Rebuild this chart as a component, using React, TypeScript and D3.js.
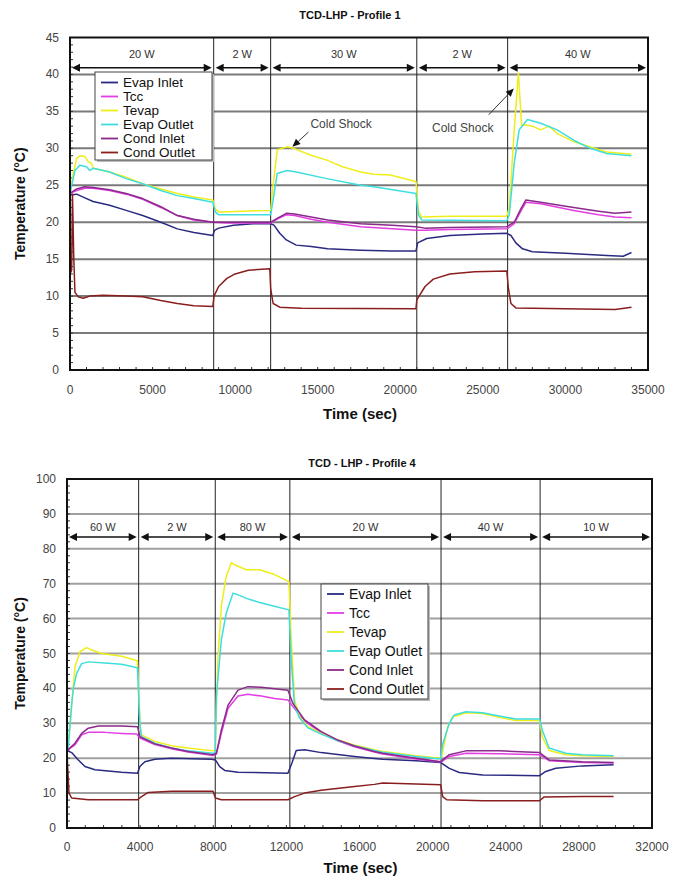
import React from 'react';
import * as d3 from 'd3';

type Pt = [number, number];

const seriesNames = ['Evap Inlet', 'Tcc', 'Tevap', 'Evap Outlet', 'Cond Inlet', 'Cond Outlet'];
const seriesColors = ['#2a2a82', '#e23ee2', '#eeee1a', '#3edede', '#8a2a8a', '#8a1e1e'];

// ---------- Profile 1 ----------
const p1EvapInlet: Pt[] = [[0,23.7],[400,23.8],[900,23.3],[1400,22.8],[2400,22.3],[3400,21.6],[4400,20.9],[5500,20.0],[6500,19.1],[7500,18.6],[8650,18.2],[8750,18.9],[9000,19.2],[9900,19.6],[11100,19.8],[12150,19.8],[12350,19.6],[12700,18.5],[13100,17.6],[13700,16.9],[14600,16.7],[15600,16.4],[17600,16.2],[19500,16.1],[20950,16.1],[21050,17.2],[21600,17.8],[23000,18.2],[25000,18.4],[26450,18.5],[26700,18.2],[27000,17.2],[27400,16.4],[28000,16.0],[30000,15.8],[32500,15.5],[33500,15.4],[34000,15.9]];
const p1Tcc: Pt[] = [[0,23.9],[400,24.3],[900,24.6],[1400,24.6],[2400,24.3],[3400,23.8],[4400,23.1],[5500,22.0],[6500,20.9],[7500,20.3],[8650,20.0],[9500,19.9],[11000,19.9],[12150,19.9],[12600,20.5],[13100,21.0],[13600,20.9],[14600,20.4],[15600,20.0],[17600,19.4],[19500,19.1],[20950,18.9],[21500,18.9],[23000,19.0],[26450,19.1],[26900,19.8],[27300,21.5],[27600,22.7],[28500,22.5],[30500,21.6],[32000,21.0],[33000,20.7],[34000,20.6]];
const p1Tevap: Pt[] = [[0,23.9],[200,26.6],[400,28.6],[600,29.0],[900,28.9],[1100,28.2],[1300,28.0],[1400,27.3],[2400,26.8],[3400,26.1],[4400,25.2],[5500,24.5],[6500,23.9],[7500,23.4],[8650,23.0],[8800,21.8],[9000,21.4],[10500,21.5],[12150,21.6],[12300,25.0],[12550,29.8],[13150,30.2],[13550,30.0],[14550,29.1],[15550,28.4],[16500,27.5],[17600,26.8],[18400,26.5],[19400,26.4],[20950,25.5],[21100,21.5],[21300,20.7],[23000,20.8],[26450,20.8],[26600,22.0],[26900,32.5],[27150,40.2],[27350,33.0],[27500,33.2],[28000,33.0],[28500,32.5],[29000,33.0],[29500,32.0],[30500,30.9],[31500,30.2],[32500,29.5],[34000,29.2]];
const p1EvapOutlet: Pt[] = [[0,23.9],[300,27.0],[600,27.7],[1000,27.5],[1200,27.0],[1400,27.3],[2400,26.8],[3400,25.9],[4400,25.2],[5500,24.3],[6500,23.6],[7500,23.2],[8650,22.7],[8800,21.4],[9000,21.0],[12150,21.0],[12300,23.0],[12550,26.6],[13150,27.0],[13700,26.8],[15550,25.9],[17600,25.0],[18400,24.8],[20950,23.9],[21100,21.0],[21300,20.3],[26450,20.2],[26600,21.0],[26900,28.0],[27200,32.5],[27700,33.9],[28500,33.4],[29500,32.5],[30500,31.1],[31500,30.0],[32500,29.3],[34000,29.0]];
const p1CondInlet: Pt[] = [[0,23.9],[400,24.5],[900,24.8],[1400,24.7],[2400,24.4],[3400,23.9],[4400,23.2],[5500,22.1],[6500,20.9],[7500,20.4],[8650,20.0],[9500,20.0],[11000,20.0],[12150,20.0],[12600,20.6],[13100,21.2],[13600,21.1],[14600,20.7],[15600,20.3],[17600,19.8],[19500,19.6],[20950,19.4],[21500,19.2],[23000,19.3],[26450,19.4],[26900,20.0],[27300,21.8],[27600,23.0],[28500,22.7],[30500,22.0],[32000,21.5],[33000,21.2],[34000,21.4]];
const p1CondOutlet: Pt[] = [[0,13.0],[100,13.5],[150,23.8],[230,15.0],[300,10.5],[500,9.9],[800,9.7],[1200,10.0],[2000,10.1],[3400,10.0],[4400,9.9],[5500,9.4],[6500,9.0],[7500,8.7],[8650,8.6],[8720,10.0],[9000,11.3],[9500,12.4],[10000,13.0],[10800,13.5],[12100,13.7],[12150,11.0],[12300,9.0],[12700,8.5],[14000,8.35],[20950,8.3],[21000,9.5],[21500,11.3],[22000,12.3],[23000,13.0],[24500,13.3],[26450,13.4],[26550,11.0],[26700,9.0],[27000,8.4],[30000,8.3],[33000,8.2],[34000,8.5]];

const p1XTicks = [0, 5000, 10000, 15000, 20000, 25000, 30000, 35000];
const p1YTicks = [0, 5, 10, 15, 20, 25, 30, 35, 40, 45];
const p1Bounds = [0, 8700, 12150, 21000, 26500, 35000];
const p1Powers = ['20 W', '2 W', '30 W', '2 W', '40 W'];
const p1Notes = [
  { text: 'Cold Shock', tx: 14558, ty: 32.8, anchor: 'start', from: [14437, 32.2], to: [13467, 30.2] },
  { text: 'Cold Shock', tx: 23780, ty: 32.2, anchor: 'middle', from: [25356, 34.55], to: [26872, 38.1] },
];

// ---------- Profile 4 ----------
const p2EvapInlet: Pt[] = [[0,22.2],[255,21.6],[619,19.5],[983,17.6],[1529,16.7],[2985,16.0],[3859,15.7],[3986,17.6],[4259,19.0],[4805,19.7],[5715,20.0],[7899,19.7],[8117,19.5],[8354,17.6],[8627,16.5],[9355,16.0],[12085,15.7],[12303,18.6],[12540,22.2],[12995,22.4],[13905,21.6],[15725,20.5],[16817,19.9],[17272,19.7],[19092,19.3],[20440,18.8],[20548,18.4],[20912,17.1],[21458,15.9],[22732,15.2],[25850,15.0],[26190,16.2],[26736,17.1],[28192,17.8],[29900,18.1]];
const p2Tcc: Pt[] = [[0,22.2],[437,23.8],[801,26.7],[1165,27.4],[2075,27.4],[2985,27.1],[3804,26.9],[3990,25.8],[4805,23.9],[5715,22.7],[6625,21.8],[7990,20.8],[8172,21.2],[8445,27.2],[8809,34.3],[9355,37.8],[9901,38.3],[10629,37.8],[11357,37.1],[12085,36.7],[12358,34.8],[12995,30.6],[13905,27.3],[14815,25.0],[15725,23.3],[16817,21.8],[17272,21.2],[19092,19.8],[20440,18.9],[20548,19.2],[20912,20.5],[21822,21.4],[23640,21.3],[25850,21.0],[26372,19.3],[28192,18.8],[29900,18.6]];
const p2Tevap: Pt[] = [[0,21.9],[180,30.0],[260,35.7],[437,46.2],[710,50.5],[1074,51.7],[1347,51.0],[1893,50.0],[2985,49.2],[3850,47.9],[3920,40.0],[3990,30.0],[4077,26.7],[4805,24.8],[5715,23.6],[6625,22.9],[8000,22.1],[8110,22.5],[8180,35.0],[8263,49.2],[8445,63.7],[8718,72.3],[8991,76.0],[9264,75.2],[9810,74.0],[10538,74.0],[11266,72.8],[12140,70.6],[12267,54.0],[12449,36.7],[12722,31.9],[13177,29.0],[13905,27.1],[14815,25.2],[15725,23.8],[16817,22.4],[17272,21.9],[19092,20.7],[20440,20.0],[20500,20.5],[20821,29.0],[21094,31.8],[21822,33.0],[22732,32.8],[23640,31.7],[24552,30.8],[25850,30.8],[26008,26.0],[26372,22.2],[27282,21.0],[28192,20.7],[29900,20.5]];
const p2EvapOutlet: Pt[] = [[0,21.9],[73,23.3],[250,35.0],[346,40.0],[528,44.3],[801,47.1],[1165,47.6],[2075,47.3],[2985,46.9],[3850,45.9],[3920,38.0],[4000,29.0],[4077,26.2],[4805,24.3],[5715,22.9],[6625,22.1],[8000,21.4],[8110,21.6],[8172,37.7],[8445,54.0],[8718,61.7],[9082,67.3],[9264,67.0],[9810,65.8],[10538,64.6],[11448,63.4],[12140,62.5],[12267,48.0],[12449,35.0],[12722,31.5],[13177,28.7],[13905,26.9],[14815,25.0],[15725,23.6],[16817,22.2],[17272,21.7],[19092,20.5],[20440,19.8],[20550,24.0],[20912,30.0],[21180,32.4],[21822,33.3],[22732,33.0],[23640,32.1],[24552,31.2],[25850,31.2],[26000,28.0],[26372,22.9],[27282,21.4],[28192,21.0],[29900,20.7]];
const p2CondInlet: Pt[] = [[0,22.2],[437,24.3],[801,27.1],[1165,28.6],[1711,29.2],[2985,29.2],[3859,29.0],[3990,26.2],[4805,24.1],[5715,22.9],[6625,21.9],[7990,21.0],[8172,21.4],[8445,28.1],[8809,35.2],[9355,39.5],[9901,40.5],[10629,40.3],[12085,39.5],[12358,35.7],[12995,31.0],[13905,27.6],[14815,25.2],[15725,23.5],[16817,21.9],[17272,21.4],[19092,20.0],[20440,19.0],[20548,19.5],[20912,21.0],[21822,22.1],[23640,22.1],[25850,21.6],[26372,19.5],[28192,19.0],[29900,18.8]];
const p2CondOutlet: Pt[] = [[0,21.5],[60,15.0],[109,10.0],[255,8.6],[1165,8.1],[3859,8.1],[4077,9.0],[4441,10.2],[5715,10.5],[7990,10.5],[8117,8.6],[8445,8.1],[12085,8.1],[12449,9.0],[12995,10.0],[13905,10.8],[15725,11.9],[16817,12.5],[17272,12.9],[19092,12.6],[20440,12.4],[20550,9.0],[20770,8.1],[22732,7.8],[25850,7.8],[26100,8.9],[28192,9.0],[29900,9.0]];

const p2XTicks = [0, 4000, 8000, 12000, 16000, 20000, 24000, 28000, 32000];
const p2YTicks = [0, 10, 20, 30, 40, 50, 60, 70, 80, 90, 100];
const p2Bounds = [0, 3920, 8110, 12190, 20460, 25880, 32000];
const p2Powers = ['60 W', '2 W', '80 W', '20 W', '40 W', '10 W'];

const FONT = '"Liberation Sans", Arial, Helvetica, sans-serif';

type Note = { text: string; tx: number; ty: number; anchor: string; from: number[]; to: number[] };

type ChartProps = {
  title: string; titleX: number; titleY: number;
  xr: [number, number]; yr: [number, number];
  xMax: number; yMax: number;
  xTicks: number[]; yTicks: number[];
  yMinor: number; xMinor: number;
  series: Pt[][];
  bounds: number[]; powers: string[];
  arrowT: number; labelT: number;
  gridColor: string;
  legend: { x: number; y: number; w: number; h: number; row0: number; step: number; fs: number };
  notes: Note[];
  yLabelLeft: number; xLabelBase: number; xTitleBase: number;
};

function Chart(p: ChartProps) {
  const x = d3.scaleLinear().domain([0, p.xMax]).range(p.xr);
  const y = d3.scaleLinear().domain([0, p.yMax]).range(p.yr);
  const line = d3.line<Pt>().x(d => x(d[0])).y(d => y(d[1]));
  const [xl, xrr] = p.xr;
  const [yb, yt] = p.yr;
  const minorY = d3.range(0, p.yMax + 0.001, p.yMinor);
  const minorX = d3.range(0, p.xMax + 0.001, p.xMinor);
  const ay = y(p.arrowT);
  const ly = y(p.labelT);
  const lg = p.legend;
  return (
    <g>
      <text x={p.titleX} y={p.titleY} textAnchor="middle" fontFamily={FONT} fontSize={11} fontWeight="bold" fill="#111">{p.title}</text>
      {p.yTicks.filter(t => t > 0 && t < p.yMax).map(t => (
        <line key={'g' + t} x1={xl} x2={xrr} y1={y(t)} y2={y(t)} stroke={p.gridColor} strokeWidth={2} />
      ))}
      {p.bounds.slice(1, -1).map((b, i) => (
        <line key={'b' + i} x1={x(b)} x2={x(b)} y1={yt} y2={yb} stroke="#222" strokeWidth={1} />
      ))}
      {minorY.map((t, i) => (
        <line key={'my' + i} x1={xl} x2={xl + 3} y1={y(t)} y2={y(t)} stroke="#333" strokeWidth={1} />
      ))}
      {minorX.map((t, i) => (
        <line key={'mx' + i} x1={x(t)} x2={x(t)} y1={yb} y2={yb - 3} stroke="#333" strokeWidth={1} />
      ))}
      {p.powers.map((s, i) => {
        const a = x(p.bounds[i]) + 2;
        const b = x(p.bounds[i + 1]) - 2;
        return (
          <g key={'p' + i}>
            <line x1={a + 4} x2={b - 4} y1={ay} y2={ay} stroke="#111" strokeWidth={1.6} />
            <polygon points={`${a},${ay} ${a + 8},${ay - 4} ${a + 8},${ay + 4}`} fill="#111" />
            <polygon points={`${b},${ay} ${b - 8},${ay - 4} ${b - 8},${ay + 4}`} fill="#111" />
            <text x={(a + b) / 2} y={ly + 4} textAnchor="middle" fontFamily={FONT} fontSize={11} fill="#333">{s}</text>
          </g>
        );
      })}
      {p.series.map((s, i) => (
        <path key={'s' + i} d={line(s) || ''} fill="none" stroke={seriesColors[i]} strokeWidth={1.5} strokeLinejoin="round" />
      ))}
      {p.notes.map((n, i) => {
        const x1 = x(n.from[0]), y1 = y(n.from[1]), x2 = x(n.to[0]), y2 = y(n.to[1]);
        const ang = Math.atan2(y2 - y1, x2 - x1);
        const L = 8, W = 3.5;
        const bx = x2 - L * Math.cos(ang), by = y2 - L * Math.sin(ang);
        const px = -Math.sin(ang) * W, py = Math.cos(ang) * W;
        return (
          <g key={'n' + i}>
            <text x={x(n.tx)} y={y(n.ty)} textAnchor={n.anchor as any} fontFamily={FONT} fontSize={12} fill="#444">{n.text}</text>
            <line x1={x1} y1={y1} x2={bx} y2={by} stroke="#333" strokeWidth={1} />
            <polygon points={`${x2},${y2} ${bx + px},${by + py} ${bx - px},${by - py}`} fill="#111" />
          </g>
        );
      })}
      <rect x={xl} y={yt} width={xrr - xl} height={yb - yt} fill="none" stroke="#111" strokeWidth={2} />
      {p.yTicks.map(t => (
        <text key={'yt' + t} x={p.yLabelLeft} y={y(t) + 4} textAnchor="end" fontFamily={FONT} fontSize={12} fill="#444">{t}</text>
      ))}
      {p.xTicks.map(t => (
        <text key={'xt' + t} x={x(t)} y={p.xLabelBase} textAnchor="middle" fontFamily={FONT} fontSize={12} fill="#444">{t}</text>
      ))}
      <text x={(xl + xrr) / 2 + 1} y={p.xTitleBase} textAnchor="middle" fontFamily={FONT} fontSize={15} fontWeight="bold" fill="#111">Time (sec)</text>
      <text transform={`translate(25,${(yt + yb) / 2}) rotate(-90)`} textAnchor="middle" fontFamily={FONT} fontSize={14} fontWeight="bold" fill="#111">Temperature (°C)</text>
      <rect x={lg.x + 2} y={lg.y + 2} width={lg.w} height={lg.h} fill="#bbb" />
      <rect x={lg.x} y={lg.y} width={lg.w} height={lg.h} fill="#fff" stroke="#444" strokeWidth={1} />
      {seriesNames.map((nm, i) => {
        const cy = lg.row0 + i * lg.step;
        return (
          <g key={'l' + i}>
            <line x1={lg.x + 6} x2={lg.x + 23} y1={cy} y2={cy} stroke={seriesColors[i]} strokeWidth={1.8} />
            <text x={lg.x + 28} y={cy + lg.fs * 0.36} fontFamily={FONT} fontSize={lg.fs} fill="#111">{nm}</text>
          </g>
        );
      })}
    </g>
  );
}

export default function App() {
  return (
    <svg width={685} height={878} style={{ position: 'absolute', left: 0, top: 0, background: '#fff' }}>
      <rect x={0} y={0} width={685} height={878} fill="#fff" />
      <Chart
        title="TCD-LHP - Profile 1" titleX={350} titleY={19}
        xr={[70, 648]} yr={[370, 37.5]} xMax={35000} yMax={45}
        xTicks={p1XTicks} yTicks={p1YTicks} yMinor={1} xMinor={1000}
        series={[p1EvapInlet, p1Tcc, p1Tevap, p1EvapOutlet, p1CondInlet, p1CondOutlet]}
        bounds={p1Bounds} powers={p1Powers} arrowT={40.9} labelT={42.8}
        gridColor="#7a7a7a"
        legend={{ x: 95, y: 72, w: 117, h: 88, row0: 82.5, step: 14, fs: 13.5 }}
        notes={p1Notes}
        yLabelLeft={59} xLabelBase={394} xTitleBase={419}
      />
      <Chart
        title="TCD - LHP - Profile 4" titleX={362} titleY={467}
        xr={[67, 652]} yr={[828, 479]} xMax={32000} yMax={100}
        xTicks={p2XTicks} yTicks={p2YTicks} yMinor={2} xMinor={1000}
        series={[p2EvapInlet, p2Tcc, p2Tevap, p2EvapOutlet, p2CondInlet, p2CondOutlet]}
        bounds={p2Bounds} powers={p2Powers} arrowT={83.4} labelT={86.2}
        gridColor="#a0a0a0"
        legend={{ x: 321, y: 584, w: 107, h: 115, row0: 594, step: 19, fs: 14 }}
        notes={[]}
        yLabelLeft={56} xLabelBase={851} xTitleBase={873}
      />
    </svg>
  );
}
